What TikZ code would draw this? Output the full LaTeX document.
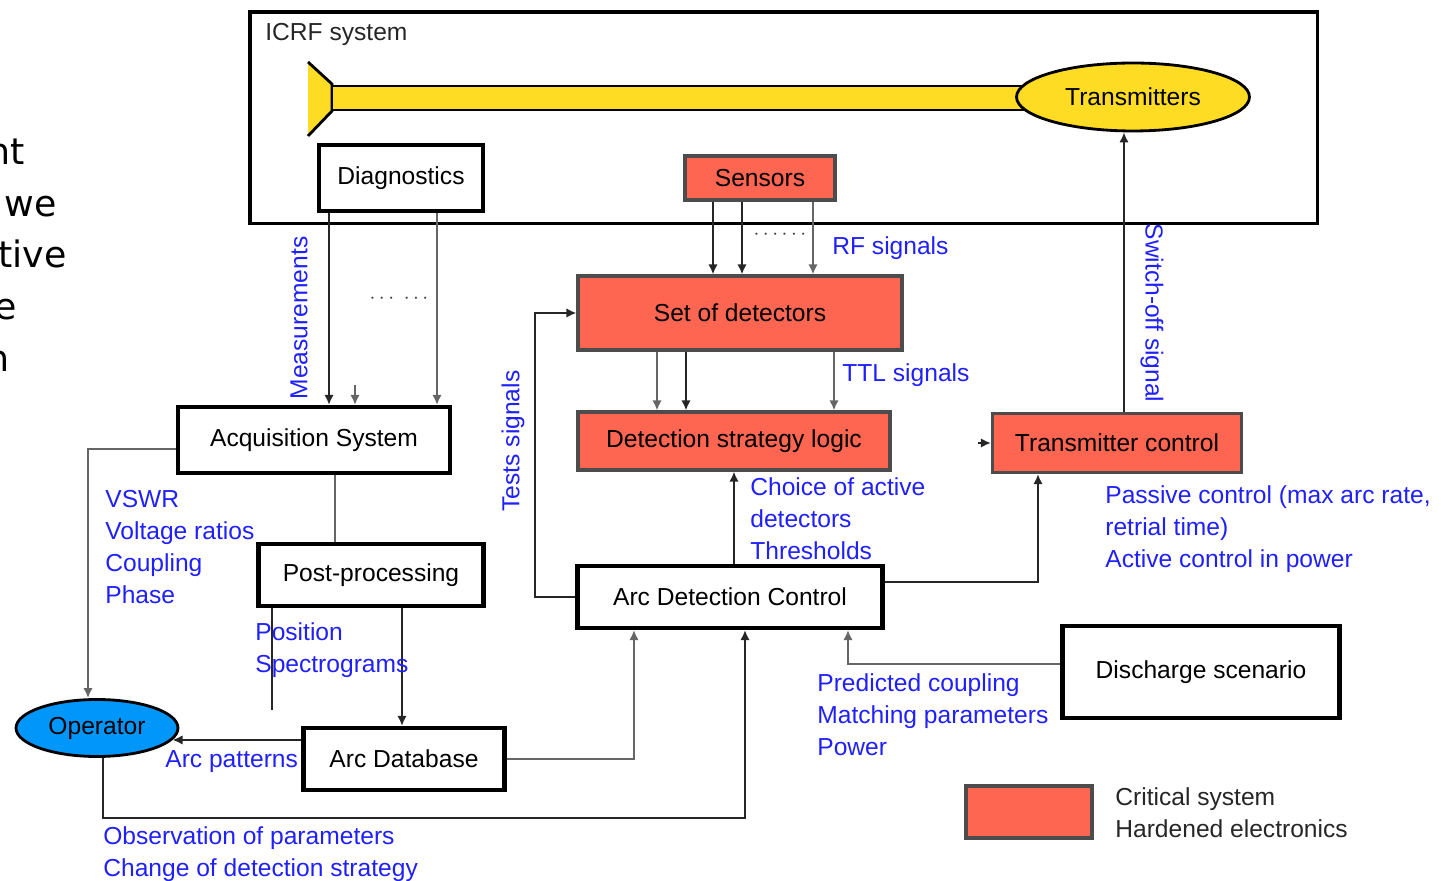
\documentclass[tikz,border=0pt]{standalone}
\usepackage{fontspec}
\setmainfont{Liberation Sans}
\newfontfamily\slidefont{DejaVu Sans}
\usetikzlibrary{arrows.meta,shapes.geometric}
\definecolor{critRed}{RGB}{255,102,82}
\definecolor{coaxYellow}{RGB}{255,220,36}
\definecolor{opBlue}{RGB}{0,150,250}
\definecolor{labelBlue}{RGB}{32,32,250}
\tikzset{%
  >={Latex[width=1.9mm,length=2mm]},
  % Specifications for style of nodes:
          base/.style = {rectangle, draw=black, line width=2.4pt,
                         text centered, inner sep=0pt,
                         font=\fontsize{14}{17}\selectfont},
      plainbox/.style = {base, fill=white},
      critical/.style = {base, draw=black!70, line width=1.8pt, fill=critRed},
    ellipsebox/.style = {ellipse, draw=black, line width=1.6pt, inner sep=0pt,
                         font=\fontsize{14}{17}\selectfont},
     bluelabel/.style = {text=labelBlue, align=left, inner sep=0pt,
                         anchor=north west, font=\fontsize{14}{18.2}\selectfont},
     slidetext/.style = {inner sep=0pt, anchor=base east,
                         font=\slidefont\fontsize{20.7}{25}\selectfont},
      dotsmark/.style = {text=black!75, inner sep=0pt,
                         font=\fontsize{12.5}{15}\selectfont},
          wire/.style = {draw=black!85, line width=1.3pt},
      greywire/.style = {draw=black!60, line width=1.3pt},
}

\begin{document}
\begin{tikzpicture}[x=0.02cm, y=-0.02cm]
  \useasboundingbox (0,0) rectangle (1455,881);
  % text of the slide running in from the left
  \node[slidetext] (fragNt)   at (25,165) {nt};
  \node[slidetext] (fragWe)   at (57,217) {we};
  \node[slidetext] (fragTive) at (67,268) {tive};
  \node[slidetext] (fragE)    at (17,320) {e};
  \node[slidetext] (fragN)    at (10,372) {n};

  % ICRF system frame with the coax line
  \node[draw=black, line width=2pt, minimum width=21.36cm, minimum height=4.24cm,
        inner sep=0pt, anchor=north west] (icrf) at (248,10) {};
  \node[anchor=north west, inner sep=0pt, font=\fontsize{14}{17}\selectfont,
        text=black!85] (icrfLabel) at (265,23) {ICRF system};
  \fill[coaxYellow] (308,62) -- (332,84) -- (332,111) -- (308,136) -- cycle;
  \draw[black, line width=1.6pt] (308,62) -- (332,84) -- (332,111) -- (308,136);
  \filldraw[fill=coaxYellow, draw=black, line width=1.6pt] (332,86) rectangle (1040,110);
  \node[ellipsebox, fill=coaxYellow, minimum width=4.66cm, minimum height=1.36cm]
       (transmitters) at (1133,97) {Transmitters};

  % Specification of nodes (position, etc.)
  \node[plainbox, minimum width=3.28cm, minimum height=1.32cm] (diagnostics)   at (401,178) {Diagnostics};
  \node[critical, minimum width=3cm,    minimum height=0.88cm] (sensors)       at (760,178) {Sensors};
  \node[critical, minimum width=6.48cm, minimum height=1.48cm] (detectorSet)   at (740,313) {Set of detectors};
  \node[critical, minimum width=6.24cm, minimum height=1.16cm] (strategyLogic) at (734,441) {Detection strategy logic};
  \node[critical, minimum width=4.98cm, minimum height=1.18cm] (txControl)     at (1117,443) {Transmitter control};
  \node[plainbox, minimum width=5.44cm, minimum height=1.32cm] (acquisition)   at (314,440) {Acquisition System};
  \node[plainbox, minimum width=4.5cm,  minimum height=1.24cm] (postProc)      at (371,575) {Post-processing};
  \node[plainbox, minimum width=6.1cm,  minimum height=1.24cm] (arcControl)    at (730,597) {Arc Detection Control};
  \node[plainbox, minimum width=4.02cm, minimum height=1.24cm] (arcDatabase)   at (404,759) {Arc Database};
  \node[plainbox, minimum width=5.54cm, minimum height=1.84cm] (scenario)      at (1201,672) {Discharge scenario};
  \node[ellipsebox, fill=opBlue, minimum width=3.24cm, minimum height=1.14cm] (operator) at (97,728) {Operator};
  \coordinate (logicOut) at (978,443);

  % legend
  \node[critical, minimum width=2.52cm, minimum height=1.04cm] (legendBox) at (1029,812) {};
  \node[anchor=north west, align=left, inner sep=0pt, text=black!85,
        font=\fontsize{14}{18.2}\selectfont] (legendText) at (1115,787)
        {Critical system\\Hardened electronics};

  % Specification of lines between nodes specified above
  \draw[wire, ->]     (329,0 |- diagnostics.south) -- (329,0 |- acquisition.north);
  \draw[greywire, ->] (355,385) -- (355,0 |- acquisition.north);
  \draw[greywire, ->] (437,0 |- diagnostics.south) -- (437,0 |- acquisition.north);
  \node[dotsmark] (measDots) at (399,299) {$\cdots\ \cdots$};

  \draw[wire, ->]     (713,0 |- sensors.south) -- (713,0 |- detectorSet.north);
  \draw[wire, ->]     (742,0 |- sensors.south) -- (742,0 |- detectorSet.north);
  \draw[greywire, ->] (813,0 |- sensors.south) -- (813,0 |- detectorSet.north);
  \node[dotsmark] (rfDots) at (780,235) {$\cdots\cdots$};

  \draw[greywire, ->] (657,0 |- detectorSet.south) -- (657,0 |- strategyLogic.north);
  \draw[wire, ->]     (686,0 |- detectorSet.south) -- (686,0 |- strategyLogic.north);
  \draw[greywire, ->] (834,0 |- detectorSet.south) -- (834,0 |- strategyLogic.north);

  \draw[wire, ->] (734,0 |- arcControl.north) -- (strategyLogic.south);
  \draw[wire, ->] (arcControl.west) -- (535,0 |- arcControl.west) |- (detectorSet.west);
  \draw[wire, ->] (arcControl.east |- 0,582) -| (1038,0 |- txControl.south);
  \draw[wire, ->] (1124,0 |- txControl.north) -- (1124,0 |- transmitters.south);
  \draw[wire, ->] (logicOut) -- (txControl.west);

  \draw[greywire, ->] (acquisition.west |- 0,449) -| (88,0 |- operator.north);
  \draw[greywire]     (335,0 |- acquisition.south) -- (335,0 |- postProc.north);
  \draw[wire, ->]     (402,0 |- postProc.south) -- (402,0 |- arcDatabase.north);
  \draw[wire]         (272,0 |- postProc.south) -- (272,710);
  \draw[wire, ->]     (arcDatabase.west |- operator.-9) -- (operator.-9);
  \draw[greywire, ->] (arcDatabase.east) -| (634,0 |- arcControl.south);
  \draw[wire, ->]     (103,0 |- operator.south) -- (103,818) -| (745,0 |- arcControl.south);
  \draw[greywire, ->] (scenario.west |- 0,664) -| (848,0 |- arcControl.south);

  % blue signal labels
  \node[bluelabel, rotate=90, anchor=center]  (measLabel)   at (299,318) {Measurements};
  \node[bluelabel, rotate=90, anchor=center]  (testsLabel)  at (513,441) {Tests signals};
  \node[bluelabel, rotate=-90, anchor=center] (switchLabel) at (1152,313) {Switch-off signal};
  \node[bluelabel] (rfLabel)      at (832,236) {RF signals};
  \node[bluelabel] (ttlLabel)     at (842,363) {TTL signals};
  \node[bluelabel] (choiceLabel)  at (750,477) {Choice of active\\detectors\\Thresholds};
  \node[bluelabel] (vswrLabel)    at (105,490) {VSWR\\Voltage ratios\\Coupling\\Phase};
  \node[bluelabel] (posLabel)     at (255,622) {Position\\Spectrograms};
  \node[bluelabel] (patternLabel) at (165,750) {Arc patterns};
  \node[bluelabel] (obsLabel)     at (103,826) {Observation of parameters\\Change of detection strategy};
  \node[bluelabel] (predLabel)    at (817,673) {Predicted coupling\\Matching parameters\\Power};
  \node[bluelabel] (passiveLabel) at (1105,485) {Passive control (max arc rate,\\retrial time)\\Active control in power};
\end{tikzpicture}
\end{document}
